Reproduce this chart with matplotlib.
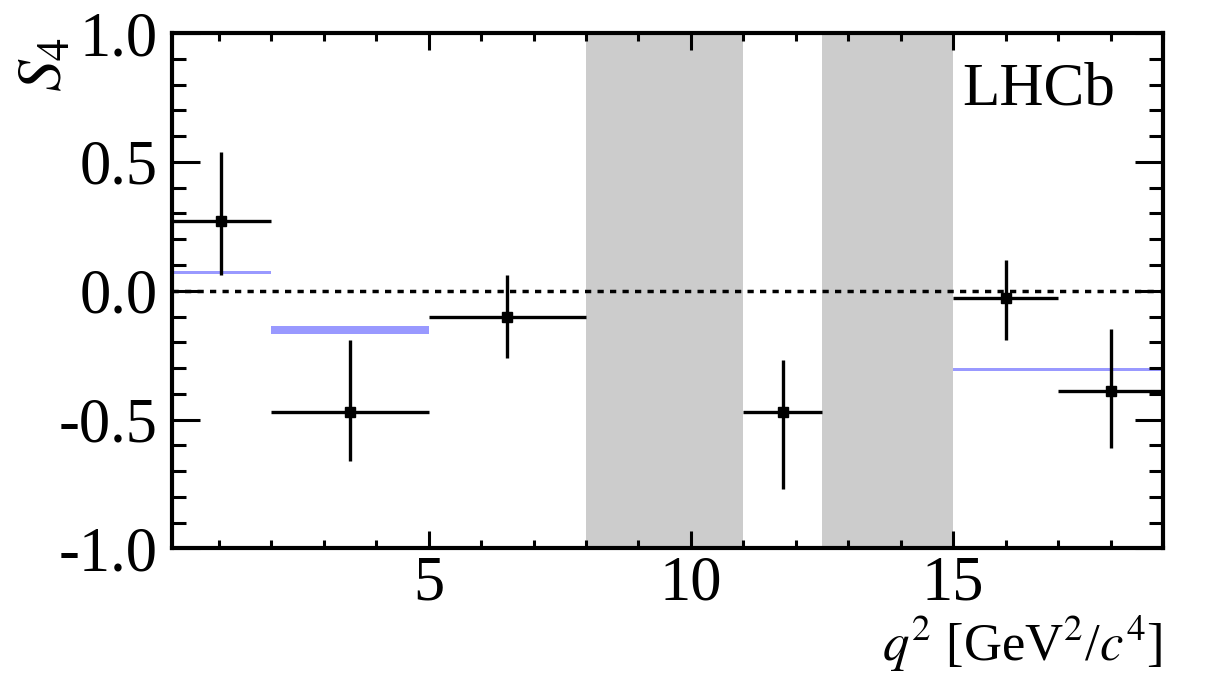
import matplotlib
matplotlib.use("Agg")
import matplotlib.pyplot as plt
from matplotlib.ticker import MultipleLocator, FormatStrFormatter

plt.rcParams['font.family'] = ['Liberation Serif', 'DejaVu Serif']
plt.rcParams['mathtext.fontset'] = 'stix'
plt.rcParams['axes.unicode_minus'] = False

# measured S4 per q2 bin
bin_lo = [0.1, 2.0, 5.0, 11.0, 15.0, 17.0]
bin_hi = [2.0, 5.0, 8.0, 12.5, 17.0, 19.0]
q2_center = [1.05, 3.5, 6.5, 11.75, 16.0, 18.0]
s4 = [0.27, -0.47, -0.10, -0.47, -0.03, -0.39]
err_up = [0.27, 0.28, 0.16, 0.20, 0.15, 0.24]
err_dn = [0.21, 0.19, 0.16, 0.30, 0.16, 0.22]

# SM prediction bands
sm_lo_q2 = [0.1, 2.0, 15.0]
sm_hi_q2 = [2.0, 5.0, 19.0]
sm_low = [0.066, -0.168, -0.310]
sm_high = [0.075, -0.135, -0.300]

# vetoed charmonium regions
veto_lo = [8.0, 12.5]
veto_hi = [11.0, 15.0]

fig = plt.figure(figsize=(12.26, 6.77), dpi=100)
ax = fig.add_axes([0.14, 0.19, 0.8086, 0.761])

for lo, hi in zip(veto_lo, veto_hi):
    ax.axvspan(lo, hi, color='#cccccc', lw=0, zorder=0)

for lo, hi, a, b in zip(sm_lo_q2, sm_hi_q2, sm_low, sm_high):
    ax.fill_between([lo, hi], [a, a], [b, b], color='#9999ff', lw=0, zorder=1)

ax.axhline(0.0, color='black', lw=2.5, linestyle=(0, (1.8, 1.8)), zorder=2)

xerr_l = [c - lo for c, lo in zip(q2_center, bin_lo)]
xerr_r = [hi - c for c, hi in zip(q2_center, bin_hi)]
ax.errorbar(q2_center, s4, xerr=[xerr_l, xerr_r], yerr=[err_dn, err_up],
            fmt='s', color='black', ms=6.5, elinewidth=2.4, capsize=0, zorder=3)

ax.set_xlim(0.1, 19)
ax.set_ylim(-1.0, 1.0)
ax.xaxis.set_major_locator(MultipleLocator(5))
ax.xaxis.set_minor_locator(MultipleLocator(1))
ax.yaxis.set_major_locator(MultipleLocator(0.5))
ax.yaxis.set_minor_locator(MultipleLocator(0.1))
ax.yaxis.set_major_formatter(FormatStrFormatter('%.1f'))
ax.xaxis.set_major_formatter(FormatStrFormatter('%d'))

ax.tick_params(axis='both', which='both', direction='in', top=True, right=True,
               labelsize=45, width=2.2)
ax.tick_params(axis='x', which='major', length=12, pad=5)
ax.tick_params(axis='x', which='minor', length=6)
ax.tick_params(axis='y', which='major', length=20, pad=10)
ax.tick_params(axis='y', which='minor', length=10)
for s in ax.spines.values():
    s.set_linewidth(3)

fig.text(0.038, 0.905, r'$S_4$', rotation=90, fontsize=46, ha='center', va='center')
fig.text(0.9486, 0.004, r'$q^2$ [GeV$^2$/$c^4$]', fontsize=38, ha='right', va='bottom')
fig.text(0.785, 0.845, 'LHCb', fontsize=44, ha='left', va='baseline')

fig.savefig('out.png', dpi=100)
